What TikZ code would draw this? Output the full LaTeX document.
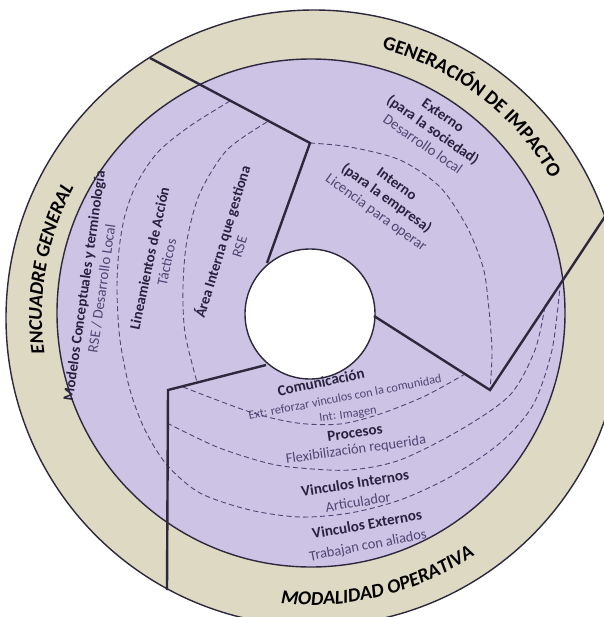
\documentclass[tikz,border=0pt]{standalone}
\usepackage{fontspec}
\setmainfont{Carlito}
\usetikzlibrary{decorations.text}
\definecolor{ringbeige}{RGB}{221,217,195}
\definecolor{discpurple}{RGB}{204,195,229}
\definecolor{inkdark}{RGB}{40,34,62}
\definecolor{inksoft}{RGB}{80,70,115}
\definecolor{edgeline}{RGB}{45,40,60}
\newcommand\bandfont{\fontsize{28}{28}\selectfont\bfseries}
\newcommand\bandfontit{\fontsize{28}{28}\selectfont\bfseries\itshape}
\begin{document}
\begin{tikzpicture}[x=0.5mm, y=-0.5mm,
  ring/.style={draw=edgeline, line width=0.7mm},
  sep/.style={draw=edgeline, line width=1.2mm},
  level/.style={draw=inksoft, line width=0.45mm, dash pattern=on 2.6mm off 1.6mm},
  head/.style={font=\fontsize{21.5}{25}\selectfont\bfseries, text=inkdark},
  sub/.style={font=\fontsize{20.5}{24}\selectfont, text=inksoft},
  small/.style={font=\fontsize{17.5}{20}\selectfont, text=inksoft},
  blk/.style={align=center, text=inksoft, font=\fontsize{21}{25}\selectfont}]
\clip (0,0) rectangle (604,617);
\fill[white] (0,0) rectangle (604,617);
\draw[ring, fill=ringbeige] (314,318) circle (308);
\draw[ring, fill=discpurple] (311,313) circle (254);
\draw[level] plot[smooth] coordinates {(230,101) (190,126) (158,152) (137,183) (125,215) (119,250) (117,290) (120,340) (130,390) (145,430) (167,465) (200,493) (250,510) (300,517) (350,513) (400,500) (450,477) (500,443) (533,405) (552,350) (560,286)};
\draw[level] plot[smooth] coordinates {(267,122) (227,150) (200,193) (187,240) (183,287) (185,333) (197,382)};
\draw[level] plot[smooth] coordinates {(183,387) (250,412) (297,423) (340,424) (380,414) (425,396) (465,374)};
\draw[level] plot[smooth] coordinates {(167,423) (217,447) (267,463) (300,468) (350,470) (400,460) (460,430) (510,395) (535,350) (545,306)};
\draw[level] plot[smooth] coordinates {(310,143) (350,147) (400,160) (440,187) (467,227) (483,267) (488,300) (492,350) (490,390)};
\draw[ring, fill=white] (310,314) circle (65);
\draw[sep] (150,58) -- (310,143) -- (267,263);
\draw[sep] (606,215) -- (490,390) -- (374,316);
\draw[sep] (266,365) -- (168,390) -- (167,590);
\path[decorate, decoration={text along path, text align=center, text={|\bandfont|GENERACIÓN DE IMPACTO}}]
  (312,315) ++(-85:275) arc[start angle=-85, end angle=-20, radius=275];
\path[decorate, decoration={text along path, text align=center, text={|\bandfontit|ENCUADRE GENERAL}}]
  (312,315) ++(160:270) arc[start angle=160, end angle=220, radius=270];
\path[decorate, decoration={text along path, text align=center, text={|\bandfontit|MODALIDAD OPERATIVA}}]
  (312,315) ++(106:290) arc[start angle=106, end angle=46, radius=290];
\node[blk, rotate=-35] (externo) at (433,130) {\textcolor{inkdark}{\bfseries Externo}\\ \textcolor{inkdark}{\bfseries (para la sociedad)}\\ Desarrollo local};
\node[blk, rotate=-36] (interno) at (386,199) {\textcolor{inkdark}{\bfseries Interno}\\ \textcolor{inkdark}{\bfseries (para la empresa)}\\ Licencia para operar};
\node[blk, rotate=82] (modelos) at (93,287) {\textcolor{inkdark}{\bfseries Modelos Conceptuales y terminología}\\ RSE / Desarrollo Local};
\node[blk, rotate=78] (lineam) at (158,260) {\textcolor{inkdark}{\bfseries Lineamientos de Acción}\\ Tácticos};
\node[blk, rotate=73] (area) at (230,244) {\textcolor{inkdark}{\bfseries Área Interna que gestiona}\\ RSE};
\node[head, rotate=12] (comunic) at (321,382) {Comunicación};
\node[small, rotate=11] (comext) at (345,397) {Ext: reforzar vinculos con la comunidad};
\node[small, rotate=8] (comint) at (348,415) {Int: Imagen};
\node[head, rotate=8] (procesos) at (355,433) {Procesos};
\node[sub, rotate=8] (procsub) at (356,450) {Flexibilización requerida};
\node[head, rotate=9] (vinint) at (355,483) {Vinculos Internos};
\node[sub, rotate=9] (vinintsub) at (358,502) {Articulador};
\node[head, rotate=10] (vinext) at (367,524) {Vinculos Externos};
\node[sub, rotate=11] (vinextsub) at (368,546) {Trabajan con aliados};
\end{tikzpicture}
\end{document}
